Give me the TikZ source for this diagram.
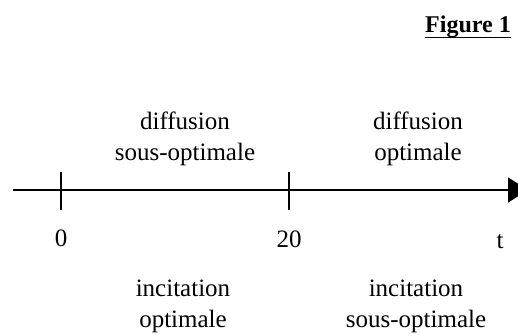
\documentclass[tikz,border=0pt]{standalone}
\usepackage{fontspec}
\setmainfont{Liberation Serif}
\usetikzlibrary{arrows.meta}

\tikzset{
  lbl/.style={font=\fontsize{25}{31}\selectfont, align=center, inner sep=0pt, anchor=base},
  ticmark/.style={line width=1.6pt},
  axis/.style={line width=1.6pt, -{Triangle[length=20pt,width=25pt]}},
}

\begin{document}
\begin{tikzpicture}[x=1pt,y=-1pt]
  \useasboundingbox (0,0) rectangle (518,334);

  % title
  \node[lbl, font=\fontsize{24}{28}\selectfont\bfseries] (title) at (468,33) {Figure 1};
  \draw[line width=1.6pt] ([yshift=-4.5pt]title.base west) -- ([yshift=-4.5pt]title.base east);

  % time axis
  \coordinate (axstart) at (13,190);
  \coordinate (axend) at (528,190);
  \draw[axis] (axstart) -- (axend);

  % ticks
  \foreach \x/\nm in {61/zero,289/twenty}{
    \coordinate (\nm-a) at (\x,172);
    \coordinate (\nm-b) at (\x,210);
    \draw[ticmark] (\nm-a) -- (\nm-b);
  }
  \node[lbl] (lzero) at (61,246) {0};
  \node[lbl] (ltwenty) at (289,247) {20};
  \node[lbl] (ltime) at (500,248) {t};

  % regimes above the axis
  \node[lbl] (diffa) at (185,160) {diffusion\\sous-optimale};
  \node[lbl] (diffb) at (418,160) {diffusion\\optimale};

  % regimes below the axis
  \node[lbl] (inca) at (183,327) {incitation\\optimale};
  \node[lbl] (incb) at (416,327) {incitation\\sous-optimale};
\end{tikzpicture}
\end{document}
